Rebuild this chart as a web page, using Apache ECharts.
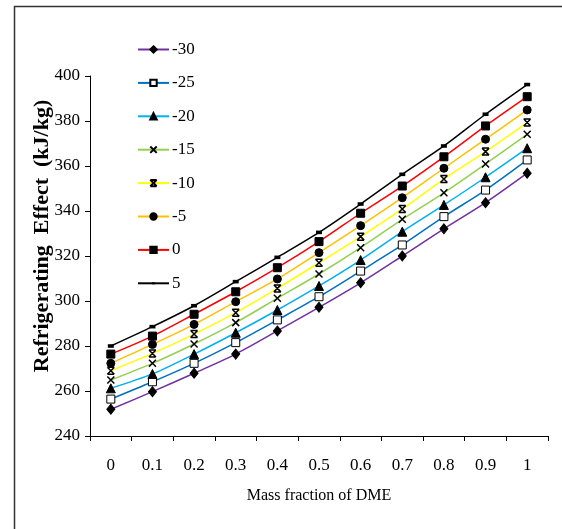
<!DOCTYPE html>
<html><head><meta charset="utf-8">
<script src="https://cdn.jsdelivr.net/npm/echarts@6/dist/echarts.min.js"></script>
<style>html,body{margin:0;padding:0;background:#fff}#c{width:562px;height:529px}</style>
</head><body><div id="c"></div>
<script>
const categories = ['0','0.1','0.2','0.3','0.4','0.5','0.6','0.7','0.8','0.9','1'];
const seriesNames = ['-30','-25','-20','-15','-10','-5','0','5'];
const sM30 = [251.9,259.7,267.9,276.4,286.7,297.2,308.1,320.0,332.1,343.7,356.8];
const sM25 = [256.4,264.1,272.3,281.5,291.6,301.9,313.3,324.9,337.5,349.3,362.7];
const sM20 = [261.2,267.6,276.4,285.9,296.0,306.7,318.2,330.8,342.7,355.0,367.9];
const sM15 = [264.9,272.3,280.9,290.4,301.2,312.0,323.7,336.3,348.1,360.9,374.1];
const sM10 = [269.0,276.7,285.3,294.8,305.6,317.0,328.6,340.9,354.2,366.4,379.3];
const sM5  = [272.3,280.7,289.6,299.7,309.8,321.5,333.5,345.9,359.0,371.9,384.9];
const s0   = [276.4,284.4,294.1,304.1,314.8,326.4,339.0,351.1,364.1,377.8,390.8];
const s5   = [280.0,288.6,297.9,308.6,319.4,330.5,343.1,356.3,368.9,383.0,396.2];
const yTicks = {min:240, max:400, interval:20};

const allData = [sM30,sM25,sM20,sM15,sM10,sM5,s0,s5];
const colors = ['#7030A0','#0070C0','#00B0F0','#92D050','#FFFF00','#FFC000','#FF0000','#000000'];
const xPath = 'path://M0,0L10,10M10,0L0,10';
const starPath = 'path://M0,0L10,10M10,0L0,10M0,0L10,0M0,10L10,10';
const dashPath = 'path://M0,0M10,10M2.5,3.5L7.5,3.5L7.5,6.5L2.5,6.5Z';
const symbols = [
  {s:'diamond', size:[8,10], fill:'#000'},
  {s:'rect', size:8, fill:'#fff'},
  {s:'triangle', size:9, fill:'#000'},
  {s:xPath, size:7, fill:'#000'},
  {s:starPath, size:7, fill:'#000'},
  {s:'circle', size:8, fill:'#000'},
  {s:'rect', size:8, fill:'#000'},
  {s:dashPath, size:12, fill:'#000'}
];
const serif = '"Liberation Serif","Times New Roman",serif';

const chart = echarts.init(document.getElementById('c'), null, {renderer:'canvas'});
chart.setOption({
  animation:false,
  backgroundColor:'#fff',
  grid:{left:90, right:14, top:76, bottom:93, containLabel:false},
  legend:{
    orient:'vertical', left:132, top:36, itemWidth:31, itemHeight:8, itemGap:16.4,
    textStyle:{fontFamily:serif, fontSize:17, color:'#000', lineHeight:16, padding:[0,0,0,-2]},
    data:seriesNames
  },
  xAxis:{
    type:'category', data:categories, boundaryGap:true,
    axisLine:{lineStyle:{color:'#000', width:1}},
    axisTick:{show:true, length:5, inside:false, lineStyle:{color:'#000'}},
    axisLabel:{fontFamily:serif, fontSize:17, color:'#000', margin:21},
    name:'Mass fraction of DME', nameLocation:'middle', nameGap:52,
    nameTextStyle:{fontFamily:serif, fontSize:16, color:'#000'}
  },
  yAxis:{
    type:'value', min:yTicks.min, max:yTicks.max, interval:yTicks.interval,
    axisLine:{show:true, lineStyle:{color:'#000', width:1}},
    axisTick:{show:true, length:5, lineStyle:{color:'#000'}},
    splitLine:{show:false},
    axisLabel:{fontFamily:serif, fontSize:17, color:'#000', margin:10}
  },
  graphic:[
    {type:'rect', left:12, top:4, shape:{width:560, height:540}, style:{fill:'none', stroke:'#333', lineWidth:1.5}, silent:true, z:-1},
    {type:'text', x:42, y:236, rotation:Math.PI/2, style:{text:'Refrigerating  Effect  (kJ/kg)', font:'bold 22px '+serif, fill:'#000', textAlign:'center', textVerticalAlign:'middle'}}
  ],
  series: allData.map((d,i)=>({
    name:seriesNames[i], type:'line', data:d, smooth:0.3,
    symbol:symbols[i].s, symbolSize:symbols[i].size, showSymbol:true,
    lineStyle:{color:colors[i], width:1.5},
    itemStyle:{color:symbols[i].fill, borderColor:'#000', borderWidth:(i===3||i===4)?1.5:(i===7?0:1)},
    z: 2+i
  }))
});
</script></body></html>
